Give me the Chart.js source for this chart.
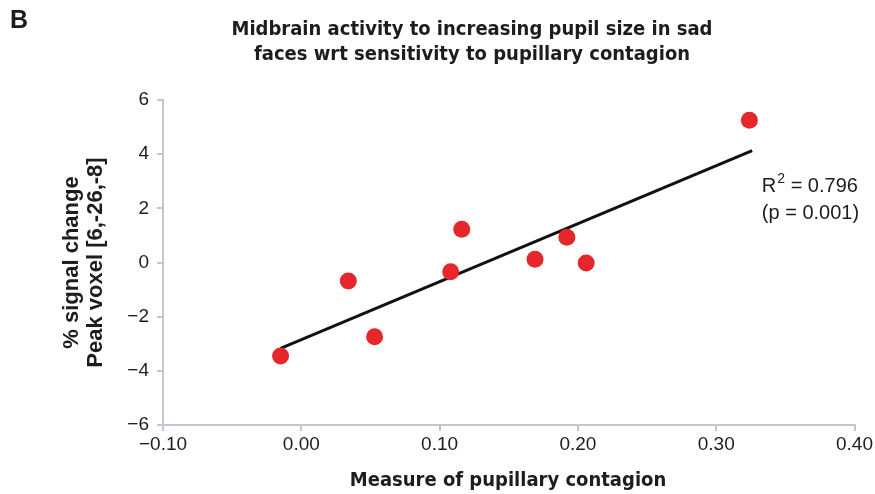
<!DOCTYPE html>
<html>
<head>
<meta charset="utf-8">
<script src="https://cdn.jsdelivr.net/npm/chart.js@4.4.1/dist/chart.umd.min.js"></script>
<style>
  html, body { margin: 0; padding: 0; background: #ffffff; }
  #wrap { width: 875px; height: 494px; position: relative; }
</style>
</head>
<body>
<div id="wrap"><canvas id="c" width="875" height="494"></canvas></div>
<script>
// ---- Data ----
const pupillaryContagion = [-0.015, 0.034, 0.053, 0.108, 0.116, 0.169, 0.192, 0.206, 0.324];
const signalChange       = [-3.45, -0.68, -2.74, -0.34, 1.23, 0.12, 0.93, -0.02, 5.25];
const trendX = [-0.015, 0.326];
const trendY = [-3.17, 4.13];
const xTicks = [-0.10, 0.00, 0.10, 0.20, 0.30, 0.40];
const yTicks = [-6, -4, -2, 0, 2, 4, 6];
const panelLabel = 'B';
const titleLines = ['Midbrain activity to increasing pupil size in sad', 'faces wrt sensitivity to pupillary contagion'];
const xTitle = 'Measure of pupillary contagion';
const yTitleLines = ['% signal change', 'Peak voxel [6,-26,-8]'];
const statLines = ['= 0.796', '(p = 0.001)'];
const statPos = [0.333, 2.8];

const minus = s => String(s).replace('-', '\u2212');
const pts = pupillaryContagion.map((x, i) => ({ x: x, y: signalChange[i] }));
const trend = trendX.map((x, i) => ({ x: x, y: trendY[i] }));

const NARROW = '"Liberation Sans Narrow", "DejaVu Sans Condensed", "Liberation Sans", Arial, sans-serif';
const SANS = '"Liberation Sans", Arial, Helvetica, sans-serif';
const AXIS_COLOR = '#c0c7d0';
const TEXT = '#1f1c1d';

const textPlugin = {
  id: 'texts',
  afterDraw(chart) {
    const ctx = chart.ctx;
    const ca = chart.chartArea;
    ctx.save();
    ctx.fillStyle = TEXT;
    // panel label
    ctx.font = 'bold 25px ' + SANS;
    ctx.textAlign = 'left';
    ctx.textBaseline = 'middle';
    ctx.fillText(panelLabel, 10, 21);
    // title
    ctx.font = 'bold 20px ' + NARROW;
    ctx.textAlign = 'center';
    titleLines.forEach((t, i) => ctx.fillText(t, 472, 30 + i * 25));
    // x title
    ctx.font = 'bold 20px ' + NARROW;
    ctx.fillText(xTitle, 508, 481);
    // y title
    ctx.save();
    ctx.translate(0, (ca.top + ca.bottom) / 2);
    ctx.rotate(-Math.PI / 2);
    ctx.font = 'bold 22px ' + SANS;
    ctx.textAlign = 'center';
    yTitleLines.forEach((t, i) => {
      ctx.save();
      ctx.translate(0, 72 + i * 24);
      ctx.fillText(t, 0, 0);
      ctx.restore();
    });
    ctx.restore();
    // stats annotation
    const sx = chart.scales.x.getPixelForValue(statPos[0]);
    const sy = chart.scales.y.getPixelForValue(statPos[1]);
    ctx.textAlign = 'left';
    ctx.font = '20px ' + SANS;
    ctx.fillText('R', sx, sy);
    const rw = ctx.measureText('R').width;
    ctx.font = '14px ' + SANS;
    ctx.fillText('2', sx + rw + 1, sy - 8);
    const sw = ctx.measureText('2').width;
    ctx.font = '20px ' + SANS;
    ctx.fillText(' ' + statLines[0], sx + rw + sw + 1, sy);
    ctx.fillText(statLines[1], sx, sy + 27);
    ctx.restore();
  }
};

new Chart(document.getElementById('c'), {
  type: 'scatter',
  data: {
    datasets: [
      {
        type: 'line',
        data: trend,
        borderColor: '#111111',
        borderWidth: 3,
        pointRadius: 0,
        fill: false,
        order: 2
      },
      {
        type: 'scatter',
        data: pts,
        backgroundColor: '#e5262a',
        borderColor: '#e5262a',
        borderWidth: 0,
        pointRadius: 8.5,
        order: 1
      }
    ]
  },
  options: {
    responsive: false,
    animation: false,
    events: [],
    layout: { padding: { top: 100, right: 19, left: 0, bottom: 0 } },
    plugins: { legend: { display: false }, tooltip: { enabled: false }, title: { display: false } },
    scales: {
      x: {
        type: 'linear',
        min: -0.1, max: 0.4,
        afterFit: s => { s.height = 69; },
        afterBuildTicks: s => { s.ticks = xTicks.map(v => ({ value: v })); },
        ticks: {
          callback: v => minus(Number(v).toFixed(2)),
          color: TEXT,
          font: { family: SANS, size: 19 },
          padding: 2,
          maxRotation: 0,
          autoSkip: false
        },
        grid: { display: true, drawOnChartArea: false, drawTicks: true, tickLength: 6, color: AXIS_COLOR, lineWidth: 2 },
        border: { display: true, color: AXIS_COLOR, width: 2 }
      },
      y: {
        type: 'linear',
        min: -6, max: 6,
        afterFit: s => { s.width = 163; },
        afterBuildTicks: s => { s.ticks = yTicks.map(v => ({ value: v })); },
        ticks: {
          callback: v => minus(v),
          color: TEXT,
          font: { family: SANS, size: 19 },
          padding: 8,
          autoSkip: false
        },
        grid: { display: true, drawOnChartArea: false, drawTicks: true, tickLength: 6, color: AXIS_COLOR, lineWidth: 2 },
        border: { display: true, color: AXIS_COLOR, width: 2 }
      }
    }
  },
  plugins: [textPlugin]
});
</script>
</body>
</html>
